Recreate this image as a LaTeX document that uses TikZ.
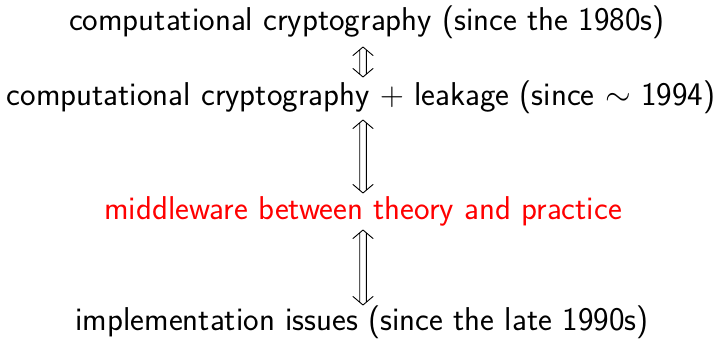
\RequirePackage{fix-cm}
\documentclass[tikz,border=0pt]{standalone}
\usepackage{xcolor}
\usetikzlibrary{calc}
\begin{document}
\begin{tikzpicture}[x=1pt,y=1pt,
  lbl/.style={inner sep=0pt,anchor=base,font=\sffamily\fontsize{33}{40}\selectfont},
  dbl/.style={line width=0.9pt,line cap=round,line join=round,to path={
    let \p1=(\tikztostart), \p2=(\tikztotarget) in
    (\x1-3.3pt,\y1-2.8pt) -- (\x1-3.3pt,\y2+2.8pt)
    (\x1+3.3pt,\y1-2.8pt) -- (\x1+3.3pt,\y2+2.8pt)
    (\x1-10pt,\y1-8.5pt) .. controls (\x1-5pt,\y1-5pt) .. (\x1,\y1)
      .. controls (\x1+5pt,\y1-5pt) .. (\x1+10pt,\y1-8.5pt)
    (\x1-10pt,\y2+8.5pt) .. controls (\x1-5pt,\y2+5pt) .. (\x1,\y2)
      .. controls (\x1+5pt,\y2+5pt) .. (\x1+10pt,\y2+8.5pt)}}]
\useasboundingbox (0,0) rectangle (721,338);
\node[lbl] (a) at (367,338-31) {computational cryptography (since the 1980s)};
\node[lbl] (b) at (361,338-106) {computational cryptography $+$ leakage (since $\sim$ 1994)};
\node[lbl,text=red] (c) at (363,338-220) {middleware between theory and practice};
\node[lbl] (d) at (362,338-330) {implementation issues (since the late 1990s)};
\coordinate (a1) at (363,338-47);
\coordinate (a2) at (363,338-77);
\coordinate (b1) at (363,338-120);
\coordinate (b2) at (363,338-193);
\coordinate (c1) at (363,338-230);
\coordinate (c2) at (363,338-305);
\draw[dbl] (a1) to (a2);
\draw[dbl] (b1) to (b2);
\draw[dbl] (c1) to (c2);
\end{tikzpicture}
\end{document}
